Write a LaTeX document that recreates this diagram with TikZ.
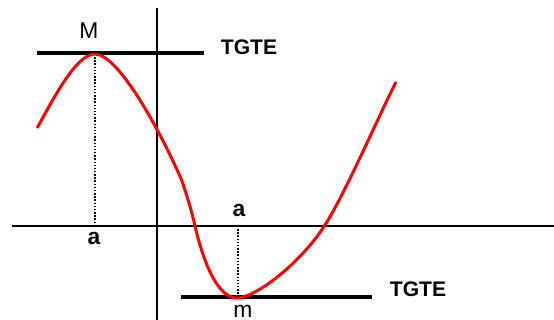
\documentclass[tikz,border=0pt]{standalone}
\usepackage{fontspec}
\setmainfont{Liberation Sans}
\usetikzlibrary{positioning}
\tikzset{
  axis/.style={draw=black, line width=0.8pt},
  tgte/.style={draw=black, line width=2.4pt},
  curve/.style={draw=red, line width=1.7pt, line join=round},
  guide/.style={draw=black, densely dotted, line width=0.8pt},
  lbl/.style={font=\fontsize{13}{15}\selectfont, inner sep=0pt},
  blbl/.style={font=\fontsize{12}{14}\selectfont\bfseries, inner sep=0pt},
}
\begin{document}
\begin{tikzpicture}[x=0.02cm, y=-0.02cm]
  \useasboundingbox (0,0) rectangle (554,320);

  % axes
  \draw[axis] (12,226) -- (554,226);
  \draw[axis] (157,8) -- (157,320);

  % extremes
  \coordinate (max) at (95,54);
  \coordinate (min) at (237,298);
  \coordinate (amax) at (95,226);
  \coordinate (amin) at (238,226);

  % tangents
  \draw[tgte] (37,53) -- (204,53);
  \draw[tgte] (181,297) -- (372,297);
  \node[blbl] (t1) at (249,47) {TGTE};
  \node[blbl] (t2) at (418,289) {TGTE};

  % guides
  \draw[guide] (max) -- (amax);
  \draw[guide] (amin) -- (238,297);

  % function
  \draw[curve] (37,128) .. controls (51,104) and (75,54) .. (max)
    .. controls (118,54) and (160,130) .. (182,181)
    .. controls (187,196) and (192,212) .. (195,226)
    .. controls (201,252) and (215,298) .. (min)
    .. controls (255,298) and (300,264) .. (325,225)
    .. controls (345,194) and (380,113) .. (396,82);

  % labels
  \node[lbl] (M) at (89,31) {M};
  \node[lbl] (m) at (243,311) {m};
  \node[blbl, font=\fontsize{13}{15}\selectfont\bfseries] (a1) at (94,238) {a};
  \node[blbl, font=\fontsize{13}{15}\selectfont\bfseries] (a2) at (239,210) {a};
\end{tikzpicture}
\end{document}
